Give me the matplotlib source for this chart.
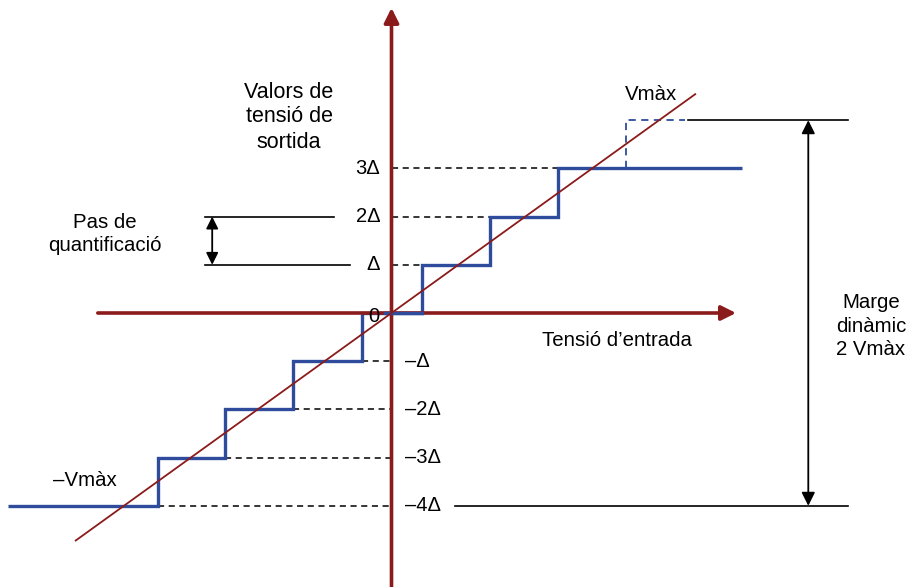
import matplotlib
matplotlib.use("Agg")
import matplotlib.pyplot as plt
from matplotlib.patches import FancyArrowPatch

plt.rcParams['font.family'] = ['Liberation Sans', 'DejaVu Sans']

# ---- data (units: x = input step, y = Δ) ----
levels = [-4, -3, -2, -1, 0, 1, 2, 3]
edges = [-5.73, -3.49, -2.49, -1.47, -0.44, 0.46, 1.47, 2.49, 5.24]
level_labels = ['–4Δ', '–3Δ', '–2Δ', '–Δ', '0', 'Δ', '2Δ', '3Δ']
vmax = 4
vmax_edge = 3.5
ideal_x = [-4.72, 4.54]

RED = '#8B1B1B'
BLUE = '#2F4C9C'

fig = plt.figure(figsize=(9.09, 5.87), dpi=100)
ax = fig.add_axes([0, 0, 1, 1])
ox, oy, sx, sy = 391.5, 313, 66.9, 48.2
ax.set_xlim(-ox / sx, (909 - ox) / sx)
ax.set_ylim((oy - 587) / sy, oy / sy)
ax.axis('off')

# axes
ax.add_patch(FancyArrowPatch((-4.39, 0), (5.15, 0), arrowstyle='-|>', mutation_scale=22,
                             color=RED, lw=2.6, shrinkA=0, shrinkB=0, zorder=3))
ax.add_patch(FancyArrowPatch((0, -5.7), (0, 6.33), arrowstyle='-|>', mutation_scale=22,
                             color=RED, lw=2.6, shrinkA=0, shrinkB=0, zorder=3))

# staircase
ax.stairs(levels, edges, baseline=None, color=BLUE, lw=2.4, zorder=2.5)
ax.plot([-0.1, edges[5]], [0, 0], color=BLUE, lw=2.4, zorder=4)
# ideal line
ax.plot(ideal_x, ideal_x, color=RED, lw=1.3, zorder=5)

# dashed guides to axis
for i, lv in enumerate(levels):
    if lv > 0:
        ax.plot([0, edges[i]], [lv, lv], ls=(0, (4, 3)), color='black', lw=1.1, zorder=2)
    elif lv < 0:
        ax.plot([edges[i + 1], 0], [lv, lv], ls=(0, (4, 3)), color='black', lw=1.1, zorder=2)

# level labels
for lv, lab in zip(levels, level_labels):
    if lv > 0:
        ax.text(-0.17, lv, lab, ha='right', va='center', fontsize=14.5)
    elif lv < 0:
        ax.text(0.2, lv, lab, ha='left', va='center', fontsize=14.5)
    else:
        ax.text(-0.27, -0.07, lab, ha='center', va='center', fontsize=14.5)

# Vmax dashed
ax.plot([vmax_edge, vmax_edge, 4.39], [3, vmax, vmax], ls=(0, (4, 3)), color=BLUE, lw=1.3, zorder=4)
ax.plot([4.43, 6.82], [vmax, vmax], color='black', lw=1.2)
ax.plot([0.95, 6.82], [-vmax, -vmax], color='black', lw=1.2)
ax.add_patch(FancyArrowPatch((6.23, -vmax), (6.23, vmax), arrowstyle='<|-|>', mutation_scale=20,
                             color='black', lw=1.3, shrinkA=0, shrinkB=0))

# quantization step indicator
ax.plot([-2.79, -0.86], [2, 2], color='black', lw=1.2)
ax.plot([-2.79, -0.62], [1, 1], color='black', lw=1.2)
ax.add_patch(FancyArrowPatch((-2.68, 1), (-2.68, 2), arrowstyle='<|-|>', mutation_scale=18,
                             color='black', lw=1.3, shrinkA=0, shrinkB=0))

fs = 14.7
def px(x, y):
    return ((x - ox) / sx, (oy - y) / sy)

ax.text(*px(289, 117), 'Valors de\ntensió de\nsortida', ha='center', va='center', fontsize=15.5, linespacing=1.25)
ax.text(*px(651, 95), 'Vmàx', ha='center', va='center', fontsize=fs)
ax.text(*px(105, 234), 'Pas de\nquantificació', ha='center', va='center', fontsize=fs, linespacing=1.32)
ax.text(*px(617, 340), 'Tensió d’entrada', ha='center', va='center', fontsize=fs)
ax.text(*px(871, 326), 'Marge\ndinàmic\n2 Vmàx', ha='center', va='center', fontsize=fs, linespacing=1.32)
ax.text(*px(85, 481), '–Vmàx', ha='center', va='center', fontsize=fs)

fig.savefig('out.png', dpi=100)
